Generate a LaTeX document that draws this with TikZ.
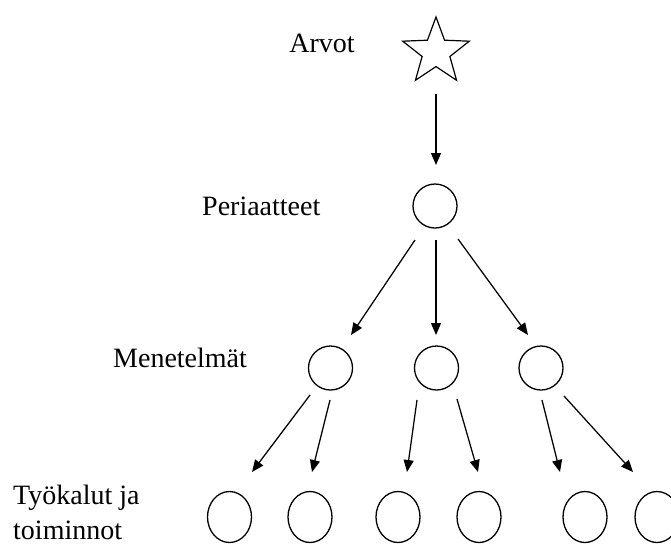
\documentclass[tikz,border=0pt]{standalone}
\usepackage{fontspec}
\setmainfont{Liberation Serif}
\usetikzlibrary{shapes.geometric,arrows.meta}
\begin{document}
\begin{tikzpicture}[x=1pt,y=-1pt,
  lbl/.style={font=\fontsize{28}{34}\selectfont, inner sep=0pt},
  circ/.style={draw, circle, line width=1.3pt, minimum size=44pt, inner sep=0pt},
  ell/.style={draw, ellipse, line width=1.3pt, minimum width=44pt, minimum height=51pt, inner sep=0pt},
  arr/.style={-{Triangle[length=12pt,width=10pt]}, line width=1.25pt}]
\useasboundingbox[fill=white] (0,0) rectangle (671,544);
\node[draw, star, star points=5, star point ratio=2.4, minimum size=70pt, inner sep=0pt, line width=1.2pt] (s) at (436,52) {};
\node[circ] (p) at (435,206) {};
\node[circ] (m1) at (330.5,368) {};
\node[circ] (m2) at (436.5,368) {};
\node[circ] (m3) at (541,368) {};
\node[ell] (t1) at (229.5,517) {};
\node[ell] (t2) at (310,517) {};
\node[ell] (t3) at (398,517) {};
\node[ell] (t4) at (479,517) {};
\node[ell] (t5) at (585,517) {};
\node[ell] (t6) at (657,517) {};
\node[lbl, anchor=base] (la) at (322,52) {Arvot};
\node[lbl, anchor=base west] (lp) at (202,215) {Periaatteet};
\node[lbl, anchor=base west] (lm) at (113,367) {Menetelmät};
\node[lbl, anchor=base west] (lt1) at (13,504) {Työkalut ja};
\node[lbl, anchor=base west] (lt2) at (13,539) {toiminnot};
\coordinate (a0s) at (436,94); \coordinate (a0e) at (436,165);
\draw[arr] (a0s) -- (a0e);
\coordinate (b1s) at (415,240); \coordinate (b1e) at (351,335);
\coordinate (b2s) at (436,240); \coordinate (b2e) at (436,335);
\coordinate (b3s) at (458,239); \coordinate (b3e) at (528,335);
\draw[arr] (b1s) -- (b1e);
\draw[arr] (b2s) -- (b2e);
\draw[arr] (b3s) -- (b3e);
\coordinate (c1s) at (310,395); \coordinate (c1e) at (252,472);
\coordinate (c2s) at (330,400); \coordinate (c2e) at (312,472);
\coordinate (c3s) at (417,400); \coordinate (c3e) at (407,472);
\coordinate (c4s) at (457,399); \coordinate (c4e) at (478,472);
\coordinate (c5s) at (542,400); \coordinate (c5e) at (560,472);
\coordinate (c6s) at (564,396); \coordinate (c6e) at (633,472);
\foreach \i in {1,...,6} {\draw[arr] (c\i s) -- (c\i e);}
\end{tikzpicture}
\end{document}
